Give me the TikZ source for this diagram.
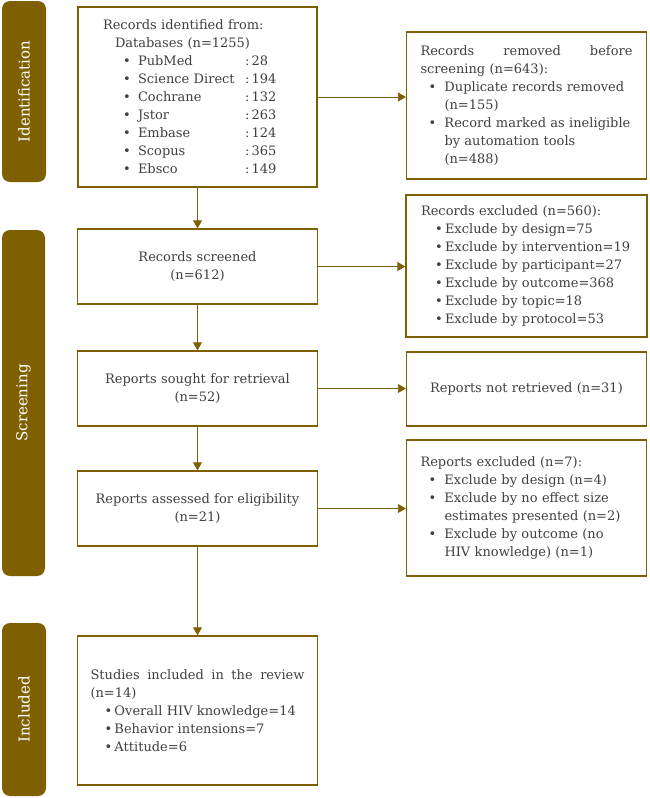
\documentclass[tikz,border=0pt]{standalone}
\usepackage{fontspec}
\setmainfont{DejaVu Serif}
\usetikzlibrary{arrows.meta}
\definecolor{darkgold}{HTML}{7F6000}
\definecolor{inkgrey}{HTML}{404040}
\newcommand{\wbul}{\hspace*{8pt}\makebox[16pt][l]{\textbullet}}
\newcommand{\nbul}{\hspace*{14pt}\makebox[10pt][l]{\textbullet}}
\newcommand{\cont}{\hspace*{24pt}}
\newcommand{\dbline}[2]{\hspace*{20pt}\makebox[15pt][l]{\textbullet}\makebox[107pt][l]{#1}:\,#2}
\begin{document}
\begin{tikzpicture}[x=1pt,y=-1pt,
    box/.style={draw=darkgold,line width=1.3pt,fill=white,text=inkgrey,
      font={\fontsize{13}{18}\selectfont},inner ysep=0pt},
    leftbox/.style={box,align=left,inner xsep=#1},
    midbox/.style={box,align=center,minimum width=240pt,text width=224pt,inner xsep=8pt},
    sidebar/.style={fill=darkgold,rounded corners=8pt,rotate=90,text=white,
      font={\fontsize{15}{18}\selectfont},inner sep=0pt},
    arr/.style={draw=darkgold,line width=0.8pt,-{Triangle[length=8pt,width=9pt]}}]
  \useasboundingbox (0,0) rectangle (649,798);

  \node[sidebar,minimum width=181pt,minimum height=44pt] (idbar) at (24,91.5) {Identification};
  \node[sidebar,minimum width=346pt,minimum height=43pt] (scbar) at (23.5,403) {Screening};
  \node[sidebar,minimum width=173pt,minimum height=44pt] (inbar) at (24,709.5) {Included};

  \node[leftbox=25pt,text width=189pt,minimum height=180pt] (ident) at (197.5,97)
    {Records identified from:\\
     \hspace*{12pt}Databases (n=1255)\\
     \dbline{PubMed}{28}\\
     \dbline{Science Direct}{194}\\
     \dbline{Cochrane}{132}\\
     \dbline{Jstor}{263}\\
     \dbline{Embase}{124}\\
     \dbline{Scopus}{365}\\
     \dbline{Ebsco}{149}};
  \node[leftbox=14pt,text width=212pt,minimum height=147pt] (removed) at (526.5,105.5)
    {Records\hfill removed\hfill before\\
     screening (n=643):\\
     \wbul Duplicate records removed\\
     \cont(n=155)\\
     \wbul Record marked as ineligible\\
     \cont by automation tools\\
     \cont(n=488)};

  \node[midbox,minimum height=75pt] (screened) at (197.5,266.5)
    {Records screened\\ (n=612)};
  \node[leftbox=15pt,text width=211pt,minimum height=142pt] (recexcl) at (526.5,266)
    {Records excluded (n=560):\\
     \nbul Exclude by design=75\\
     \nbul Exclude by intervention=19\\
     \nbul Exclude by participant=27\\
     \nbul Exclude by outcome=368\\
     \nbul Exclude by topic=18\\
     \nbul Exclude by protocol=53};

  \node[midbox,minimum height=75pt] (sought) at (197.5,388.5)
    {Reports sought for retrieval\\ (n=52)};
  \node[midbox,minimum height=74pt] (notret) at (526.5,389)
    {Reports not retrieved (n=31)};

  \node[midbox,minimum height=75pt] (assessed) at (197.5,508.5)
    {Reports assessed for eligibility\\ (n=21)};
  \node[leftbox=14pt,text width=212pt,minimum height=136pt] (repexcl) at (526.5,508)
    {Reports excluded (n=7):\\
     \wbul Exclude by design (n=4)\\
     \wbul Exclude by no effect size\\
     \cont estimates presented (n=2)\\
     \wbul Exclude by outcome (no\\
     \cont HIV knowledge) (n=1)};

  \node[leftbox=13pt,text width=214pt,minimum height=149pt] (incl) at (197.5,710.5)
    {Studies\hfill included\hfill in\hfill the\hfill review\\
     (n=14)\\
     \nbul Overall HIV knowledge=14\\
     \nbul Behavior intensions=7\\
     \nbul Attitude=6};

  \draw[arr] (ident) -- (screened);
  \draw[arr] (screened) -- (sought);
  \draw[arr] (sought) -- (assessed);
  \draw[arr] (assessed) -- (incl);
  \draw[arr] (ident.east) -- (ident.east -| removed.west);
  \draw[arr] (screened.east) -- (screened.east -| recexcl.west);
  \draw[arr] (sought.east) -- (sought.east -| notret.west);
  \draw[arr] (assessed.east) -- (assessed.east -| repexcl.west);
\end{tikzpicture}
\end{document}
